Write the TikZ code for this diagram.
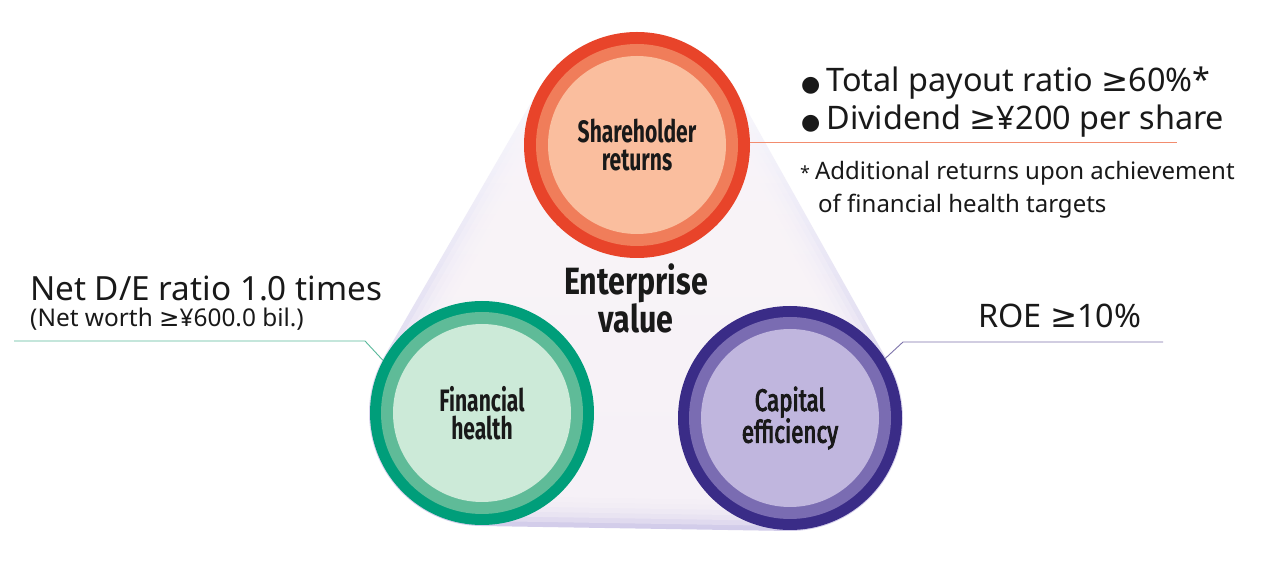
\documentclass[tikz,border=0pt]{standalone}
\usepackage{fontspec}
\setmainfont{Noto Sans}
\newfontfamily\symf{DejaVu Sans}
\newfontfamily\condf[FakeStretch=0.68]{Fira Sans}
\newfontfamily\condb[FakeStretch=0.8]{Fira Sans}
\newfontfamily\condm[FakeStretch=0.72,FakeBold=3]{Fira Sans}
\newcommand\gesym{{\symf ≥}}
\usetikzlibrary{calc}
\definecolor{lav}{RGB}{210,204,234}
\definecolor{glow}{RGB}{250,245,249}
\definecolor{redO}{RGB}{232,68,42}
\definecolor{redM}{RGB}{240,125,90}
\definecolor{redI}{RGB}{250,190,158}
\definecolor{grnO}{RGB}{0,158,122}
\definecolor{grnM}{RGB}{95,187,152}
\definecolor{grnI}{RGB}{204,234,216}
\definecolor{purO}{RGB}{58,44,135}
\definecolor{purM}{RGB}{122,108,178}
\definecolor{purI}{RGB}{192,182,222}
\definecolor{olinec}{RGB}{242,140,110}
\definecolor{glinec}{RGB}{90,185,155}
\definecolor{plinec}{RGB}{125,115,170}
\definecolor{txt}{RGB}{25,25,25}
\def\hullpath#1{($(T)+(29.27:#1)$) arc[start angle=29.27,end angle=149.96,radius=#1] -- ($(G)+(149.96:#1)$) arc[start angle=149.96,end angle=269.07,radius=#1] -- ($(P)+(269.07:#1)$) arc[start angle=269.07,end angle=389.27,radius=#1] -- cycle}
\tikzset{
  ringnode/.style n args={4}{circle, inner sep=0pt, minimum size=#1, fill=#2,
    path picture={\fill[#3] (path picture bounding box.center) circle (101);
                  \fill[#4] (path picture bounding box.center) circle (89);}},
  circlabel/.style={text=txt, align=center, font=\condf\bfseries\fontsize{31}{28}\selectfont},
  bigtext/.style={text=txt, anchor=base west, inner sep=0pt, font=\fontsize{32.4}{32.4}\selectfont},
  smalltext/.style={text=txt, anchor=base west, inner sep=0pt, font=\fontsize{24}{24}\selectfont},
  leader/.style={line width=0.9pt}
}
\begin{document}
\begin{tikzpicture}[x=1pt,y=1pt]
\useasboundingbox (0,0) rectangle (1267,562);
\fill[white] (0,0) rectangle (1267,562);
\coordinate (T) at (637,417);
\coordinate (G) at (482,149);
\coordinate (P) at (790,144);
% background rounded triangle
\shade[top color=white, middle color=lav!80, bottom color=lav] \hullpath{113};
\foreach \r in {108,103,98,93,88,83} {\fill[glow, opacity=0.35] \hullpath{\r};}
% leader coordinates
\coordinate (oend) at (1177,420);
\coordinate (gend) at (14,221);
\coordinate (gknee) at (365,221);
\coordinate (pend) at (1163,220);
\coordinate (pknee) at (903,220);
% circles
\node[ringnode={226pt}{redO}{redM}{redI}, circlabel] (top) at (T) {Shareholder\\returns};
\node[ringnode={224pt}{grnO}{grnM}{grnI}, circlabel] (green) at (G) {Financial\\health};
\node[ringnode={224pt}{purO}{purM}{purI}, circlabel, font=\condm\fontsize{31}{28}\selectfont] (purple) at (P) {Capital\\efficiency};
% leaders
\draw[leader, olinec] (top.east |- oend) -- (oend);
\draw[leader, glinec] (gend) -- (gknee) -- (green.152);
\draw[leader, plinec] (pend) -- (pknee) -- (purple.32);
% centre text
\node[text=txt, align=center, font=\condb\bfseries\fontsize{38}{38}\selectfont] (ev) at (636,264) {Enterprise\\value};
% right texts
\node[bigtext] (b1) at (801,470) {{\symf\fontsize{22}{22}\selectfont ●}\hspace{6pt}Total payout ratio \gesym60\%*};
\node[bigtext] (b2) at (801,432) {{\symf\fontsize{22}{22}\selectfont ●}\hspace{6pt}Dividend \gesym¥200 per share};
\node[smalltext] (n1) at (800,382) {{\fontsize{18}{18}\selectfont *}\hspace{5pt}Additional returns upon achievement};
\node[smalltext] (n2) at (818,349) {of financial health targets};
% left texts
\node[bigtext, font=\fontsize{33.3}{33.3}\selectfont] (nd) at (30,261) {Net D/E ratio 1.0 times};
\node[text=txt, anchor=base west, inner sep=0pt, font=\fontsize{24.4}{24.4}\selectfont] (nw) at (30,235) {(Net worth \gesym¥600.0 bil.)};
% ROE
\node[bigtext] (roe) at (978,234) {ROE \gesym10\%};
\end{tikzpicture}
\end{document}
